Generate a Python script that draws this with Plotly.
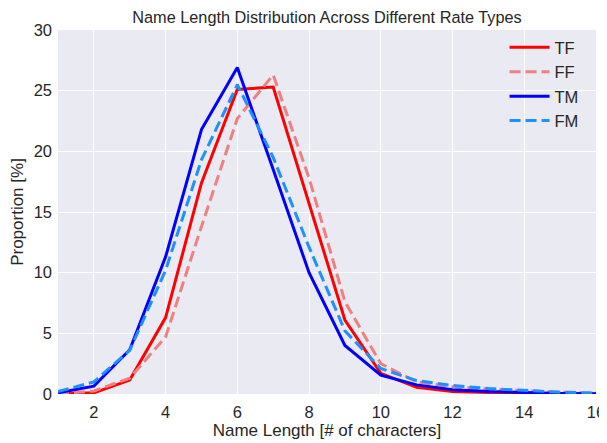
import plotly.graph_objects as go

name_length = list(range(1, 17))

tf = [0.0, 0.1, 1.15, 6.3, 17.4, 25.1, 25.3, 15.6, 6.1, 1.7, 0.55, 0.2, 0.1, 0.05, 0.02, 0.01]
ff = [0.0, 0.25, 1.3, 4.7, 13.8, 22.7, 26.3, 17.8, 7.6, 2.5, 1.0, 0.6, 0.4, 0.25, 0.15, 0.08]
tm = [0.1, 0.65, 3.65, 11.3, 21.8, 26.9, 18.5, 10.0, 4.0, 1.55, 0.75, 0.35, 0.2, 0.1, 0.05, 0.02]
fm = [0.2, 1.0, 3.6, 10.2, 19.3, 25.5, 19.5, 12.1, 5.2, 2.1, 1.1, 0.7, 0.45, 0.27, 0.15, 0.08]

series = [
    ("TF", tf, "#ff0000", "solid"),
    ("FF", ff, "#f08080", "11px,5px"),
    ("TM", tm, "#0000ff", "solid"),
    ("FM", fm, "#1e90ff", "11px,5px"),
]

fig = go.Figure()
for name, vals, color, dash in series:
    fig.add_trace(go.Scatter(x=name_length, y=vals, mode="lines", name=name,
                             line=dict(color=color, width=3, dash=dash)))

# the page body has an 8px margin, so the figure is 8px smaller on each side
font_family = "Liberation Sans, Arial, sans-serif"
txt = "#262626"
fig.update_layout(
    width=599, height=435,
    margin=dict(l=50, r=11, t=22, b=49),
    paper_bgcolor="white",
    plot_bgcolor="#eaeaf2",
    font=dict(family=font_family, size=16, color=txt),
    title=dict(text="Name Length Distribution Across Different Rate Types",
               x=0.5, xanchor="center", xref="paper",
               y=1 - 9 / 435, yanchor="middle",
               font=dict(size=16.3, color=txt)),
    xaxis=dict(range=[1, 16], tickvals=list(range(2, 17, 2)), showgrid=True,
               gridcolor="white", gridwidth=1, zeroline=False, showline=False,
               ticks="", ticklabelstandoff=6, automargin=False,
               ticklabeloverflow="allow",
               tickfont=dict(size=16.5, color=txt),
               title=dict(text="Name Length [# of characters]", standoff=4,
                          font=dict(size=17, color=txt))),
    yaxis=dict(range=[0, 30], tickvals=list(range(0, 31, 5)), showgrid=True,
               gridcolor="white", gridwidth=1, zeroline=False, showline=False,
               ticks="", ticklabelstandoff=5, automargin=False,
               tickfont=dict(size=16.5, color=txt),
               title=dict(text="Proportion [%]", standoff=8,
                          font=dict(size=17, color=txt))),
    legend=dict(x=0.83, y=1.0, xanchor="left", yanchor="top",
                bgcolor="rgba(0,0,0,0)", font=dict(size=16.5, color=txt),
                itemwidth=40, tracegroupgap=0),
)

fig.write_html("out.html")
